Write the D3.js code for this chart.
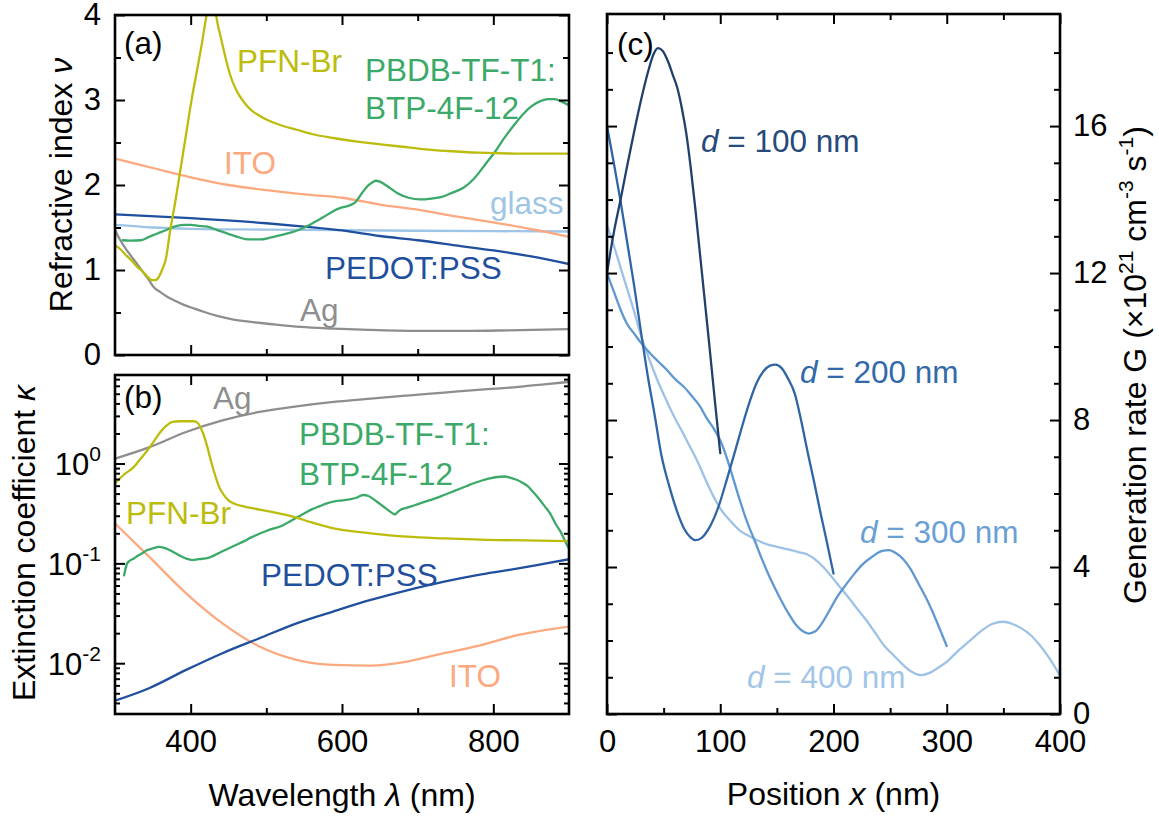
<!DOCTYPE html>
<html><head><meta charset="utf-8">
<script src="https://cdn.jsdelivr.net/npm/d3@7"></script>
<style>
body{margin:0;background:#fff}
svg{display:block}
text{font-family:"Liberation Sans",Arial,sans-serif}
</style>
</head><body>
<script>
// ---- (a) refractive index n(λ) ----
const agWlN = [300,307,315,325,335,345,351,360,370,380,391,405,420,435,455,479,510,545,590,635,700,760,820,900];
const agN   = [1.47,1.35,1.24,1.12,1.0,0.88,0.80,0.74,0.68,0.635,0.59,0.545,0.50,0.46,0.42,0.39,0.36,0.33,0.31,0.295,0.283,0.283,0.29,0.305];
const pfnWlN = [300,305,314,322,329,337,343,349,353,358,363,367,373,380,387,394,401,408,414,421,426,431,436,440,446,452,460,470,480,490,500,520,540,560,590,620,650,680,710,740,780,830,870,900];
const pfnN   = [1.29,1.26,1.18,1.11,1.04,0.98,0.92,0.88,0.88,0.92,1.02,1.12,1.47,1.82,2.21,2.6,2.99,3.33,3.62,4.0,4.22,4.12,3.88,3.73,3.5,3.3,3.12,2.98,2.88,2.82,2.77,2.7,2.65,2.6,2.55,2.51,2.48,2.45,2.42,2.4,2.38,2.37,2.37,2.37];
const itoWlN = [300,350,400,450,500,550,600,650,700,750,800,850,900];
const itoN   = [2.31,2.2,2.09,2.0,1.94,1.89,1.85,1.77,1.71,1.63,1.56,1.48,1.39];
const glassWlN = [300,350,400,500,600,700,800,900];
const glassN   = [1.53,1.50,1.485,1.475,1.468,1.462,1.457,1.453];
const pedotWlN = [300,400,500,550,600,650,700,750,800,850,900];
const pedotN   = [1.655,1.61,1.55,1.51,1.465,1.40,1.35,1.29,1.23,1.16,1.07];
const blendWlN = [310,320,334,345,356,370,382,392,400,410,422,435,448,462,475,492,505,519,532,545,555,565,575,586,598,610,618,626,634,640,645,650,656,664,674,688,703,718,732,746,761,775,790,803,815,827,839,851,863,872,880,888,895,900];
const blendN   = [1.35,1.345,1.35,1.39,1.43,1.48,1.52,1.53,1.53,1.52,1.51,1.47,1.43,1.39,1.36,1.36,1.38,1.41,1.44,1.48,1.52,1.57,1.62,1.68,1.73,1.76,1.80,1.90,1.99,2.03,2.05,2.04,2.01,1.96,1.90,1.85,1.83,1.84,1.86,1.91,1.97,2.08,2.25,2.40,2.56,2.70,2.83,2.93,2.99,3.01,3.01,2.99,2.96,2.94];

// ---- (b) extinction coefficient κ(λ) ----
const agWlK = [300,345,394,442,491,540,589,638,686,735,784,833,870,900];
const agK   = [1.12,1.45,2.07,2.71,3.29,3.74,4.14,4.47,4.79,5.13,5.5,5.85,6.24,6.56];
const pfnWlK = [300,312,325,334,343,352,360,368,376,385,395,404,409,413,418,422,427,433,438,444,450,457,470,483,510,536,560,589,638,686,735,808,860,900];
const pfnK   = [0.631,0.776,0.925,1.122,1.358,1.698,2.07,2.40,2.61,2.65,2.65,2.65,2.57,2.29,1.86,1.466,1.047,0.735,0.575,0.482,0.427,0.398,0.372,0.355,0.324,0.292,0.257,0.224,0.200,0.185,0.178,0.171,0.169,0.167];
const blendWlK = [312,314,316,320,325,330,336,342,350,358,365,372,380,388,395,402,410,420,430,440,450,460,470,480,490,500,510,520,530,540,550,560,570,580,590,600,610,620,628,635,642,650,658,665,670,673,678,685,695,705,715,725,735,745,755,765,775,785,795,805,815,822,830,838,845,852,860,868,875,882,890,895,900];
const blendK   = [0.0759,0.0891,0.100,0.107,0.112,0.119,0.126,0.135,0.141,0.146,0.143,0.136,0.126,0.117,0.111,0.108,0.110,0.112,0.119,0.130,0.141,0.153,0.166,0.182,0.197,0.211,0.224,0.237,0.260,0.288,0.316,0.347,0.372,0.398,0.417,0.427,0.437,0.457,0.484,0.473,0.437,0.394,0.355,0.324,0.309,0.324,0.347,0.359,0.380,0.403,0.427,0.452,0.484,0.519,0.556,0.596,0.638,0.676,0.708,0.733,0.741,0.724,0.692,0.646,0.596,0.525,0.447,0.372,0.316,0.251,0.200,0.166,0.141];
const pedotWlK = [300,345,394,442,491,540,589,638,686,735,784,833,870,900];
const pedotK   = [0.00422,0.00562,0.00857,0.0126,0.0178,0.0251,0.0331,0.043,0.0537,0.0656,0.0776,0.0891,0.1,0.110];
const itoWlK = [300,345,394,442,491,540,589,638,686,735,784,833,900];
const itoK   = [0.251,0.117,0.0501,0.0251,0.0147,0.0108,0.00962,0.00948,0.0104,0.0126,0.0152,0.0192,0.0233];

// ---- (c) generation rate G(x) for four active-layer thicknesses ----
const posD100 = [0,6,12,18,24,30,36,41,45,49,54,58,62,66,70,74,78,82,86,90,95,100];
const genD100 = [12.0,13.1,14.0,14.95,15.85,16.7,17.45,17.95,18.12,18.05,17.75,17.4,17.05,16.5,15.8,14.85,13.75,12.55,11.35,10.15,8.6,7.1];
const posD200 = [0,6,12,18,24,30,36,42,48,55,62,68,74,78,83,90,98,106,114,120,126,132,138,144,149,154,160,166,171,177,183,188,194,200];
const genD200 = [16.0,15.0,13.95,12.8,11.65,10.4,9.2,8.15,7.05,6.2,5.5,5.05,4.8,4.73,4.78,5.05,5.6,6.4,7.25,7.9,8.5,9.0,9.32,9.48,9.51,9.42,9.12,8.7,8.05,7.15,6.3,5.55,4.7,3.82];
const posD300 = [0,6,12,18,24,30,38,45,53,60,68,75,82,88,94,100,106,112,118,124,130,137,144,152,160,167,173,178,184,190,197,204,211,218,225,235,243,249,255,262,268,275,283,290,296,300];
const genD300 = [12.0,11.5,11.0,10.6,10.35,10.1,9.82,9.6,9.36,9.12,8.9,8.65,8.38,8.05,7.78,7.45,6.95,6.35,5.75,5.2,4.75,4.2,3.7,3.2,2.75,2.42,2.25,2.19,2.25,2.48,2.85,3.22,3.52,3.8,4.05,4.3,4.44,4.46,4.38,4.2,3.95,3.55,3.08,2.6,2.15,1.85];
const posD400 = [0,6,12,18,24,30,38,45,53,60,67,72,79,86,94,101,109,117,125,133,141,150,160,170,177,184,191,198,205,212,220,229,237,245,253,260,268,277,285,292,300,310,320,330,340,350,358,366,374,382,390,400];
const genD400 = [13.3,12.75,12.15,11.55,10.95,10.3,9.6,9.05,8.5,8.05,7.65,7.35,6.93,6.45,5.92,5.55,5.25,5.0,4.85,4.72,4.62,4.55,4.48,4.4,4.34,4.2,4.0,3.75,3.48,3.22,2.9,2.55,2.2,1.85,1.6,1.38,1.17,1.06,1.12,1.25,1.42,1.72,1.98,2.25,2.45,2.51,2.45,2.33,2.15,1.88,1.55,1.05];

// axis tick values
const wlMajor = [400,600,800], wlMinor = [500,700];
const nMajor = [0,1,2,3,4], nMinor = [0.5,1.5,2.5,3.5];
const kDecades = [0.01,0.1,1];
const posMajor = [0,100,200,300,400], posMinor = [50,150,250,350];
const gMajor = [0,4,8,12,16], gMinor = [1,2,3,5,6,7,9,10,11,13,14,15,17,18];

const COL = {
  ag:"#8e8e8e", pfn:"#bcbc0c", blend:"#3ba968", ito:"#fca97f", glass:"#9ec4e6", pedot:"#1f4f9e",
  d100:"#21406c", d200:"#2f65a5", d300:"#5f98d1", d400:"#9dc2e6"
};

const W = 1159, H = 818;
const FS_TICK = 31, FS_LAB = 31.5, FS_TITLE = 32;
const svg = d3.select("body").append("svg").attr("width", W).attr("height", H);

const A = {l:115, r:569, t:15,  b:355};
const B = {l:115, r:569, t:375, b:714};
const C = {l:607, r:1060, t:14, b:714};

const xWl  = d3.scaleLinear().domain([300,900]).range([A.l, A.r]);
const yN   = d3.scaleLinear().domain([0,4]).range([A.b, A.t]);
const yK   = d3.scaleLog().domain([0.0031,7.7]).range([B.b, B.t]);
const xPos = d3.scaleLinear().domain([0,400]).range([C.l, C.r]);
const yG   = d3.scaleLinear().domain([0,19.05]).range([C.b, C.t]);

const defs = svg.append("defs");
function clipFor(id, p) {
  defs.append("clipPath").attr("id", id).append("rect")
    .attr("x", p.l).attr("y", p.t).attr("width", p.r - p.l).attr("height", p.b - p.t);
  return svg.append("g").attr("clip-path", `url(#${id})`);
}

function curve(g, xs, ys, xs_, ys_, color) {
  const pts = xs.map((x, i) => [x, ys[i]]);
  g.append("path").datum(pts)
    .attr("fill", "none").attr("stroke", color).attr("stroke-width", 2.3)
    .attr("stroke-linejoin", "round").attr("stroke-linecap", "round")
    .attr("d", d3.line().x(d => xs_(d[0])).y(d => ys_(d[1])).curve(d3.curveMonotoneX));
}

function axis(fn, scale, tx, ty, values, size, fmt, pad) {
  const ax = fn(scale).tickValues(values).tickSizeInner(-size).tickSizeOuter(0)
    .tickPadding(pad || 0).tickFormat(fmt || (() => ""));
  const g = svg.append("g").attr("transform", `translate(${tx},${ty})`).call(ax);
  g.attr("font-family", null).attr("font-size", FS_TICK);
  g.select(".domain").remove();
  g.selectAll(".tick line").attr("stroke", "#000").attr("stroke-width", 2);
  g.selectAll(".tick text").attr("fill", "#000");
  return g;
}

function frame(p) {
  svg.append("rect").attr("x", p.l).attr("y", p.t).attr("width", p.r - p.l).attr("height", p.b - p.t)
    .attr("fill", "none").attr("stroke", "#000").attr("stroke-width", 2.6);
}

function label(txt, x, y, color) {
  return svg.append("text").attr("x", x).attr("y", y).attr("font-size", FS_LAB)
    .attr("fill", color || "#000").text(txt);
}

// ---------- panel (a) ----------
const gA = clipFor("clipA", A);
curve(gA, agWlN, agN, xWl, yN, COL.ag);
curve(gA, glassWlN, glassN, xWl, yN, COL.glass);
curve(gA, itoWlN, itoN, xWl, yN, COL.ito);
curve(gA, pedotWlN, pedotN, xWl, yN, COL.pedot);
curve(gA, blendWlN, blendN, xWl, yN, COL.blend);
curve(gA, pfnWlN, pfnN, xWl, yN, COL.pfn);

axis(d3.axisLeft, yN, A.l, 0, nMajor, 10, d3.format("d"), 14);
axis(d3.axisLeft, yN, A.l, 0, nMinor, 6);
axis(d3.axisRight, yN, A.r, 0, nMajor, 10);
axis(d3.axisRight, yN, A.r, 0, nMinor, 6);
axis(d3.axisBottom, xWl, 0, A.b, wlMajor, 10);
axis(d3.axisBottom, xWl, 0, A.b, wlMinor, 6);
axis(d3.axisTop, xWl, 0, A.t, wlMajor, 10);
axis(d3.axisTop, xWl, 0, A.t, wlMinor, 6);
frame(A);

// ---------- panel (b) ----------
const gB = clipFor("clipB", B);
curve(gB, agWlK, agK, xWl, yK, COL.ag);
curve(gB, itoWlK, itoK, xWl, yK, COL.ito);
curve(gB, pedotWlK, pedotK, xWl, yK, COL.pedot);
curve(gB, blendWlK, blendK, xWl, yK, COL.blend);
curve(gB, pfnWlK, pfnK, xWl, yK, COL.pfn);

const kMinor = yK.ticks().filter(v => !kDecades.some(d => Math.abs(v / d - 1) < 1e-6));
axis(d3.axisLeft, yK, B.l, 0, kDecades, 10);
axis(d3.axisLeft, yK, B.l, 0, kMinor, 5);
axis(d3.axisRight, yK, B.r, 0, kDecades, 10);
axis(d3.axisRight, yK, B.r, 0, kMinor, 5);
axis(d3.axisBottom, xWl, 0, B.b, wlMajor, 10, d3.format("d"), 16);
axis(d3.axisBottom, xWl, 0, B.b, wlMinor, 6);
axis(d3.axisTop, xWl, 0, B.t, wlMajor, 10);
axis(d3.axisTop, xWl, 0, B.t, wlMinor, 6);
frame(B);

// power-of-ten labels for the log axis
kDecades.forEach(v => {
  const e = Math.round(Math.log10(v));
  const t = svg.append("text").attr("x", 101).attr("y", yK(v) + 11.5)
    .attr("text-anchor", "end").attr("font-size", FS_TICK);
  t.append("tspan").text("10");
  t.append("tspan").attr("font-size", 21).attr("dy", -14).text(String(e));
});

// ---------- panel (c) ----------
const gC = clipFor("clipC", C);
curve(gC, posD400, genD400, xPos, yG, COL.d400);
curve(gC, posD300, genD300, xPos, yG, COL.d300);
curve(gC, posD200, genD200, xPos, yG, COL.d200);
curve(gC, posD100, genD100, xPos, yG, COL.d100);

axis(d3.axisBottom, xPos, 0, C.b, posMajor, 10, d3.format("d"), 16);
axis(d3.axisBottom, xPos, 0, C.b, posMinor, 6);
axis(d3.axisTop, xPos, 0, C.t, posMajor, 10);
axis(d3.axisTop, xPos, 0, C.t, posMinor, 6);
axis(d3.axisLeft, yG, C.l, 0, gMajor, 10);
axis(d3.axisLeft, yG, C.l, 0, gMinor, 6);
axis(d3.axisRight, yG, C.r, 0, gMajor, 10, d3.format("d"), 13);
axis(d3.axisRight, yG, C.r, 0, gMinor, 6);
frame(C);

// ---------- panel letters ----------
label("(a)", 124, 54);
label("(b)", 124, 408);
label("(c)", 617, 55);

// ---------- curve labels ----------
label("PFN-Br", 237, 72, COL.pfn);
label("PBDB-TF-T1:", 365, 81, COL.blend);
label("BTP-4F-12", 365, 119, COL.blend);
label("ITO", 224, 174, COL.ito);
label("glass", 490, 214, COL.glass);
label("PEDOT:PSS", 325, 279, COL.pedot);
label("Ag", 300, 321, COL.ag);

label("Ag", 213, 409, COL.ag);
label("PBDB-TF-T1:", 299, 445, COL.blend);
label("BTP-4F-12", 299, 485, COL.blend);
label("PFN-Br", 126, 524, COL.pfn);
label("PEDOT:PSS", 261, 586, COL.pedot);
label("ITO", 449, 687, COL.ito);

function dLabel(val, x, y, color) {
  const t = svg.append("text").attr("x", x).attr("y", y).attr("font-size", FS_LAB).attr("fill", color);
  t.append("tspan").attr("font-style", "italic").text("d");
  t.append("tspan").text(` = ${val} nm`);
}
dLabel(100, 701, 152, "#264a7a");
dLabel(200, 800, 383, "#3269a8");
dLabel(300, 860, 543, "#6a9fd6");
dLabel(400, 747, 688, "#a2c5e8");

// ---------- axis titles ----------
function vTitle(x, y, parts) {
  const t = svg.append("text").attr("transform", `translate(${x},${y}) rotate(-90)`)
    .attr("text-anchor", "middle").attr("font-size", FS_TITLE);
  parts.forEach(p => {
    const s = t.append("tspan").text(p.t);
    if (p.i) s.attr("font-style", "italic");
    if (p.sup) s.attr("font-size", 21).attr("dy", -13);
    if (p.down) s.attr("dy", 13);
  });
  return t;
}
vTitle(72, 185, [{t:"Refractive index "}, {t:"ν", i:true}]);
vTitle(35, 543, [{t:"Extinction coefficient "}, {t:"κ", i:true}]);
vTitle(1146, 365, [
  {t:"Generation rate G (×10"}, {t:"21", sup:true},
  {t:" cm", down:true}, {t:"-3", sup:true},
  {t:" s", down:true}, {t:"-1", sup:true},
  {t:")", down:true}
]);

const tx1 = svg.append("text").attr("x", (A.l + A.r) / 2).attr("y", 806)
  .attr("text-anchor", "middle").attr("font-size", FS_TITLE);
tx1.append("tspan").text("Wavelength ");
tx1.append("tspan").attr("font-style", "italic").text("λ");
tx1.append("tspan").text(" (nm)");

const tx2 = svg.append("text").attr("x", (C.l + C.r) / 2).attr("y", 805)
  .attr("text-anchor", "middle").attr("font-size", FS_TITLE);
tx2.append("tspan").text("Position ");
tx2.append("tspan").attr("font-style", "italic").text("x");
tx2.append("tspan").text(" (nm)");
</script>
</body></html>
